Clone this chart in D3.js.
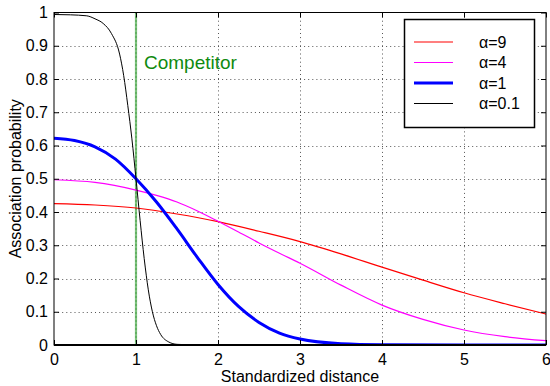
<!DOCTYPE html>
<html>
<head>
<meta charset="utf-8">
<script src="https://cdn.jsdelivr.net/npm/d3@7"></script>
<style>
  body { margin: 0; background: #fff; }
  svg { font-family: Arial, "Liberation Sans", Helvetica, sans-serif; }
  .axis path { display: none; }
  .axis line { stroke: #000; }
  .axis text { font-size: 16px; fill: #000; }
</style>
</head>
<body>
<div id="chart"></div>
<script>
var width = 550, height = 386;

// values
var redX = [0, 0.5, 1, 1.5, 2, 2.5, 3, 3.5, 4, 4.5, 5, 5.5, 6];
var redY = [0.425, 0.421, 0.412, 0.394, 0.371, 0.342, 0.311, 0.274, 0.234, 0.195, 0.157, 0.124, 0.093];

var magX = [0, 0.5, 1, 1.25, 1.5, 1.75, 2, 2.25, 2.5, 2.75, 3, 3.5, 4, 4.5, 5, 5.5, 6];
var magY = [0.497, 0.489, 0.466, 0.45, 0.43, 0.403, 0.372, 0.34, 0.307, 0.276, 0.246, 0.18, 0.12, 0.077, 0.045, 0.025, 0.013];

var blueX = [0, 0.25, 0.5, 0.75, 1, 1.25, 1.5, 1.75, 2, 2.25, 2.5, 2.75, 3, 3.5, 4, 5, 6];
var blueY = [0.622, 0.615, 0.596, 0.559, 0.5, 0.43, 0.349, 0.263, 0.182, 0.116, 0.068, 0.036, 0.018, 0.004, 0.001, 0, 0];

var blackX = [0, 0.2, 0.4, 0.5, 0.6, 0.7, 0.8, 0.85, 0.9, 0.95, 1, 1.05, 1.1, 1.15, 1.2, 1.25, 1.3, 1.4, 1.5, 1.6, 1.8, 2, 3, 4, 5, 6];
var blackY = [0.994, 0.993, 0.99, 0.981, 0.967, 0.937, 0.875, 0.81, 0.72, 0.62, 0.5, 0.375, 0.26, 0.166, 0.1, 0.058, 0.032, 0.009, 0.002, 0.001, 0, 0, 0, 0, 0, 0];

var xTicks = [0, 1, 2, 3, 4, 5, 6];
var yTicks = [0, 0.1, 0.2, 0.3, 0.4, 0.5, 0.6, 0.7, 0.8, 0.9, 1];
var competitorX = 1;

var series = [
  { name: 'α=9',   xs: redX,   ys: redY,   color: '#ff0000', w: 1.2 },
  { name: 'α=4',   xs: magX,   ys: magY,   color: '#ff00ff', w: 1.2 },
  { name: 'α=1',   xs: blueX,  ys: blueY,  color: '#0000ff', w: 3 },
  { name: 'α=0.1', xs: blackX, ys: blackY, color: '#000000', w: 1 }
];

var x = d3.scaleLinear().domain([0, 6]).range([54, 546]);
var y = d3.scaleLinear().domain([0, 1]).range([345, 12.5]);

var svg = d3.select('#chart').append('svg')
    .attr('width', width)
    .attr('height', height);

var snap = function (v) { return Math.round(v) + 0.5; };

// dotted grid
var grid = svg.append('g').attr('stroke', '#555').attr('stroke-width', 1).attr('stroke-dasharray', '1,3.1');
grid.selectAll('line.gx')
    .data(xTicks.slice(1, -1))
    .join('line')
    .attr('class', 'gx')
    .attr('x1', d => snap(x(d))).attr('x2', d => snap(x(d)))
    .attr('y1', y(1)).attr('y2', y(0));
grid.selectAll('line.gy')
    .data(yTicks.slice(1, -1))
    .join('line')
    .attr('class', 'gy')
    .attr('y1', d => snap(y(d))).attr('y2', d => snap(y(d)))
    .attr('x1', x(0)).attr('x2', x(6));

// competitor line
svg.append('line')
    .attr('x1', x(competitorX)).attr('x2', x(competitorX))
    .attr('y1', y(1)).attr('y2', y(0))
    .attr('stroke', '#7cc27c').attr('stroke-width', 2.2);
svg.append('line')
    .attr('x1', x(competitorX)).attr('x2', x(competitorX))
    .attr('y1', y(1)).attr('y2', y(0))
    .attr('stroke', '#1d7a1d').attr('stroke-width', 1).attr('stroke-dasharray', '1,3');

svg.append('text')
    .attr('x', 144).attr('y', 69)
    .attr('fill', '#0f8a0f')
    .style('font-size', '19px')
    .text('Competitor');

// curves
var line = d3.line().curve(d3.curveMonotoneX);
svg.append('defs').append('clipPath').attr('id', 'clip')
  .append('rect').attr('x', x(0)).attr('y', y(1)).attr('width', x(6) - x(0)).attr('height', y(0) - y(1));

svg.append('g').attr('clip-path', 'url(#clip)')
  .selectAll('path.curve')
  .data(series)
  .join('path')
    .attr('class', 'curve')
    .attr('fill', 'none')
    .style('stroke', d => d.color)
    .attr('stroke-width', d => d.w)
    .attr('d', d => line(d.xs.map((v, i) => [x(v), y(d.ys[i])])));

// axes with inward ticks on all sides
svg.append('g').attr('class', 'axis')
    .attr('transform', 'translate(0,' + y(0) + ')')
    .call(d3.axisBottom(x).tickValues(xTicks).tickSizeInner(-5).tickSizeOuter(0).tickPadding(9).tickFormat(d3.format('d')));
svg.append('g').attr('class', 'axis')
    .attr('transform', 'translate(0,' + y(1) + ')')
    .call(d3.axisTop(x).tickValues(xTicks).tickSizeInner(-5).tickSizeOuter(0).tickFormat(''));
svg.append('g').attr('class', 'axis')
    .attr('transform', 'translate(' + x(0) + ',0)')
    .call(d3.axisLeft(y).tickValues(yTicks).tickSizeInner(-5).tickSizeOuter(0).tickPadding(6).tickFormat(d => d === 0 || d === 1 ? d : d3.format('.1f')(d)));
svg.append('g').attr('class', 'axis')
    .attr('transform', 'translate(' + x(6) + ',0)')
    .call(d3.axisRight(y).tickValues(yTicks).tickSizeInner(-5).tickSizeOuter(0).tickFormat(''));

// frame
svg.append('rect')
    .attr('x', x(0)).attr('y', y(1))
    .attr('width', x(6) - x(0)).attr('height', y(0) - y(1))
    .attr('fill', 'none').attr('stroke', '#000').attr('stroke-width', 1);
svg.append('line')
    .attr('x1', x(0)).attr('x2', x(6)).attr('y1', y(0)).attr('y2', y(0))
    .attr('stroke', '#000').attr('stroke-width', 2);

// axis labels
svg.append('text')
    .attr('x', (x(0) + x(6)) / 2).attr('y', 382)
    .attr('text-anchor', 'middle')
    .style('font-size', '16px')
    .text('Standardized distance');
svg.append('text')
    .attr('transform', 'translate(21,' + (y(0) + y(1)) / 2 + ') rotate(-90)')
    .attr('text-anchor', 'middle')
    .style('font-size', '16px')
    .text('Association probability');

// legend
var legend = svg.append('g').attr('class', 'legend');
legend.append('rect')
    .attr('x', 404.5).attr('y', 19.5).attr('width', 130).attr('height', 108)
    .attr('fill', '#fff').attr('stroke', '#000').attr('stroke-width', 1.5);
var items = legend.selectAll('g.item')
    .data(series)
    .join('g')
    .attr('class', 'item')
    .attr('transform', (d, i) => 'translate(0,' + (42 + i * 20.5) + ')');
items.append('line')
    .attr('class', 'swatch')
    .attr('x1', 414).attr('x2', 453).attr('y1', 0).attr('y2', 0)
    .style('stroke', d => d.color)
    .style('stroke-width', d => d.w);
items.append('text')
    .attr('x', 479).attr('dy', '0.35em')
    .style('font-size', '16px')
    .text(d => d.name);
</script>
</body>
</html>
